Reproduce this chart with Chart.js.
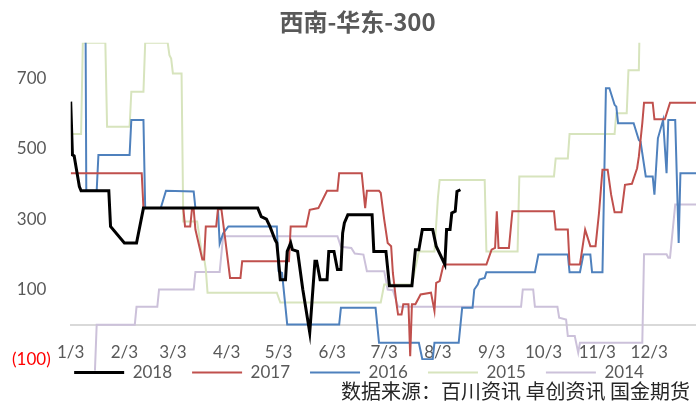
<!DOCTYPE html>
<html>
<head>
<meta charset="utf-8">
<script src="https://cdn.jsdelivr.net/npm/chart.js@4.4.0/dist/chart.umd.min.js"></script>
<style>
    body { margin: 0; background: #ffffff; }
</style>
</head>
<body>
<canvas id="chart" width="696" height="407"></canvas>
<script>
// x values are day of year (1/3 = day 3)
const monthTickDays = [3, 34, 62, 93, 123, 154, 184, 215, 246, 276, 307, 337];
const monthTickLabels = ['1/3', '2/3', '3/3', '4/3', '5/3', '6/3', '7/3', '8/3', '9/3', '10/3', '11/3', '12/3'];
const yTickValues = [-100, 100, 300, 500, 700];

const days2018 = [3, 4, 5, 8, 9, 25, 26, 34, 41, 45, 111, 113, 116, 118, 121, 122, 124, 127, 128, 130, 131, 134, 137, 141, 144, 145, 147, 151, 152, 155, 157, 159, 160, 161, 163, 177, 178, 185, 187, 200, 202, 204, 206, 212, 214, 219, 220, 222, 223, 225, 226, 228];
const vals2018 = [633, 482, 479, 392, 380, 380, 279, 232, 232, 331, 331, 307, 300, 279, 241, 232, 128, 128, 208, 232, 213, 208, 100, -22, 180, 180, 128, 128, 208, 208, 157, 157, 260, 289, 312, 312, 208, 208, 111, 111, 213, 213, 270, 270, 223, 171, 270, 270, 317, 322, 378, 383];

const days2017 = [3, 44, 45, 68, 69, 72, 73, 74, 75, 79, 80, 81, 87, 88, 90, 92, 95, 101, 102, 129, 130, 139, 141, 146, 151, 157, 158, 171, 173, 174, 181, 182, 184, 186, 188, 189, 191, 192, 194, 195, 198, 199, 200, 202, 205, 211, 213, 214, 216, 218, 219, 243, 246, 248, 249, 250, 256, 258, 282, 283, 290, 291, 297, 300, 303, 306, 308, 310, 313, 315, 317, 321, 323, 327, 330, 331, 333, 334, 339, 340, 346, 349, 364];
const vals2017 = [430, 430, 331, 331, 279, 279, 328, 328, 270, 185, 185, 279, 279, 328, 328, 251, 133, 133, 180, 180, 279, 279, 326, 331, 380, 380, 430, 430, 331, 380, 380, 374, 298, 232, 223, 147, 63, 29, 29, 58, 58, -89, 58, 58, 86, 91, 39, 119, 124, 166, 171, 171, 213, 218, 322, 218, 218, 322, 322, 270, 270, 171, 171, 270, 223, 223, 317, 440, 440, 369, 319, 319, 397, 400, 444, 477, 572, 630, 630, 583, 583, 630, 630];

const days2016 = [3, 11, 12, 18, 19, 37, 38, 45, 46, 55, 58, 74, 75, 88, 89, 91, 94, 122, 123, 125, 128, 158, 159, 179, 181, 204, 206, 212, 213, 227, 229, 235, 236, 238, 239, 242, 243, 271, 273, 290, 291, 297, 299, 303, 304, 310, 312, 314, 317, 318, 319, 328, 331, 332, 335, 339, 340, 342, 345, 347, 348, 352, 354, 355, 364];
const vals2016 = [1500, 1500, 380, 380, 482, 482, 581, 581, 331, 331, 380, 378, 331, 331, 230, 259, 279, 279, 152, 147, 1, 1, 48, 48, -51, -51, -98, -98, -51, -51, 48, 48, 100, 114, 128, 133, 149, 149, 199, 199, 149, 149, 199, 199, 149, 149, 671, 671, 624, 619, 572, 572, 524, 519, 421, 421, 369, 529, 581, 430, 581, 581, 232, 430, 430];

const days2015 = [3, 9, 10, 23, 24, 37, 38, 45, 46, 59, 60, 61, 62, 67, 68, 76, 77, 79, 80, 81, 82, 122, 124, 182, 184, 200, 204, 213, 215, 216, 242, 243, 261, 262, 282, 283, 290, 291, 317, 318, 324, 325, 331, 332];
const vals2015 = [541, 541, 800, 800, 562, 562, 661, 661, 800, 800, 765, 755, 713, 713, 293, 293, 260, 190, 190, 157, 91, 91, 63, 63, 114, 114, 208, 208, 360, 411, 411, 208, 208, 421, 421, 472, 472, 541, 541, 600, 600, 722, 722, 1000];

const days2014 = [17, 18, 40, 41, 53, 54, 74, 75, 89, 91, 157, 159, 165, 167, 172, 174, 184, 186, 189, 192, 263, 264, 270, 271, 284, 285, 289, 290, 294, 296, 297, 333, 334, 347, 348, 349, 352, 364];
const vals2014 = [-130, 0, 0, 51, 51, 100, 100, 150, 150, 251, 251, 221, 218, 202, 199, 152, 152, 100, 98, 51, 51, 100, 100, 51, 51, 20, 15, -32, -32, -79, -51, -51, 200, 200, 190, 190, 341, 341];

const sourceText = '数据来源：百川资讯 卓创资讯 国金期货';

function toPoints(days, values) {
    return days.map((d, i) => ({x: d, y: values[i]}));
}

Chart.defaults.font.family = 'Lato, sans-serif';
Chart.defaults.font.size = 17;
Chart.defaults.color = '#595959';

// source line under the legend
const sourceNote = {
    id: 'sourceNote',
    afterDraw(chart) {
        const ctx = chart.ctx;
        ctx.save();
        ctx.font = '20px "Noto Sans CJK SC", sans-serif';
        ctx.fillStyle = '#262626';
        ctx.textAlign = 'right';
        ctx.textBaseline = 'middle';
        ctx.fillText(sourceText, chart.width - 6, 391);
        ctx.restore();
    }
};

// title and legend sit a little right of the canvas centre,
// and the legend padding also spaces the items, so pull the row up
const boxShift = {
    id: 'boxShift',
    afterLayout(chart) {
        chart.titleBlock.left += 19;
        chart.legend.left += 22;
        chart.legend.top -= 16;
        chart.legend.bottom -= 16;
    }
};

const ctx = document.getElementById('chart').getContext('2d');

new Chart(ctx, {
    type: 'line',
    data: {
        datasets: [
            {label: '2018', data: toPoints(days2018, vals2018), borderColor: '#000000', backgroundColor: '#000000', borderWidth: 3},
            {label: '2017', data: toPoints(days2017, vals2017), borderColor: '#C0504D', backgroundColor: '#C0504D', borderWidth: 2},
            {label: '2016', data: toPoints(days2016, vals2016), borderColor: '#4F81BD', backgroundColor: '#4F81BD', borderWidth: 2},
            {label: '2015', data: toPoints(days2015, vals2015), borderColor: '#D7E4BD', backgroundColor: '#D7E4BD', borderWidth: 2},
            {label: '2014', data: toPoints(days2014, vals2014), borderColor: '#CCC1DA', backgroundColor: '#CCC1DA', borderWidth: 2,
                clip: {left: 1, top: 1, right: 1, bottom: 12}}
        ]
    },
    options: {
        responsive: false,
        animation: false,
        layout: {
            padding: {left: 0, right: 0, top: 0, bottom: 0}
        },
        elements: {
            point: {radius: 0},
            line: {tension: 0, fill: false}
        },
        plugins: {
            title: {
                display: true,
                text: '西南-华东-300',
                color: '#595959',
                font: {family: '"Noto Sans CJK SC", sans-serif', size: 24, weight: 'bold'},
                padding: {top: 7, bottom: 7}
            },
            legend: {
                position: 'bottom',
                labels: {
                    usePointStyle: true,
                    pointStyle: 'line',
                    pointStyleWidth: 50,
                    padding: 20,
                    color: '#595959',
                    font: {size: 17}
                }
            },
            tooltip: {enabled: false}
        },
        scales: {
            x: {
                type: 'linear',
                position: {y: 0},
                min: 3,
                max: 364,
                afterBuildTicks: (scale) => {
                    scale.ticks = monthTickDays.map(v => ({value: v}));
                },
                grid: {drawOnChartArea: false, drawTicks: false},
                border: {color: '#D9D9D9', width: 2},
                ticks: {
                    autoSkip: false,
                    maxRotation: 0,
                    padding: 18,
                    color: '#595959',
                    callback: (value, index) => monthTickLabels[index]
                }
            },
            y: {
                min: -100,
                max: 800,
                afterBuildTicks: (scale) => {
                    scale.ticks = yTickValues.map(v => ({value: v}));
                },
                afterFit: (scale) => {
                    scale.width = 70.7;
                },
                grid: {display: false, drawTicks: false},
                border: {display: false},
                ticks: {
                    padding: 20,
                    color: (c) => c.tick && c.tick.value < 0 ? '#FF0000' : '#595959',
                    callback: (value) => value < 0 ? '(' + Math.abs(value) + ')' : value + ' '
                }
            }
        }
    },
    plugins: [sourceNote, boxShift]
});
</script>
</body>
</html>
